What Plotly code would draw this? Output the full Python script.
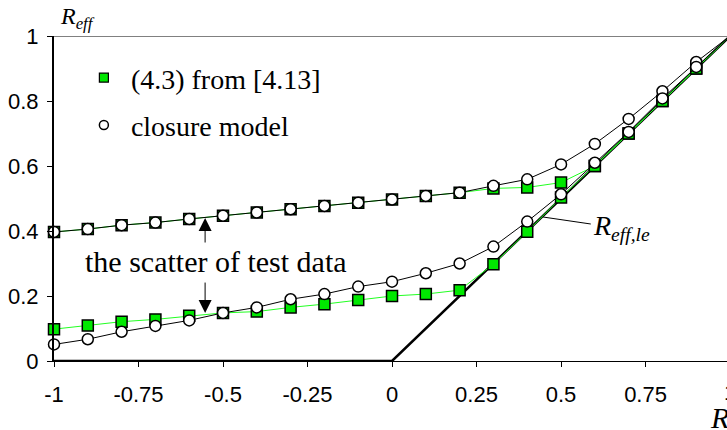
import plotly.graph_objects as go

# R values (abscissa) shared by all series
r_vals = [-1.0, -0.9, -0.8, -0.7, -0.6, -0.5, -0.4, -0.3, -0.2, -0.1, 0.0,
          0.1, 0.2, 0.3, 0.4, 0.5, 0.6, 0.7, 0.8, 0.9, 1.0]

# Eq. (4.3) from [4.13]: upper and lower bounds of the test-data scatter
eq_upper = [0.397, 0.406, 0.418, 0.426, 0.437, 0.447, 0.457, 0.467, 0.477, 0.487, 0.497,
            0.508, 0.518, 0.531, 0.534, 0.549, 0.600, 0.700, 0.800, 0.900, 1.000]
eq_lower = [0.098, 0.109, 0.121, 0.128, 0.139, 0.148, 0.152, 0.165, 0.175, 0.188, 0.200,
            0.206, 0.218, 0.298, 0.398, 0.503, 0.600, 0.700, 0.800, 0.900, 1.000]

# Closure model: upper and lower bounds
cm_upper = [0.397, 0.406, 0.418, 0.426, 0.437, 0.447, 0.457, 0.467, 0.477, 0.487, 0.497,
            0.508, 0.518, 0.539, 0.559, 0.605, 0.668, 0.745, 0.830, 0.920, 1.000]
cm_lower = [0.051, 0.067, 0.090, 0.108, 0.125, 0.148, 0.165, 0.190, 0.206, 0.229, 0.244,
            0.270, 0.300, 0.352, 0.429, 0.513, 0.610, 0.705, 0.808, 0.905, 1.000]

# Limit line R_eff,le
le_r = [-1.0, 0.0, 1.0]
le_val = [0.0, 0.0, 1.0]

x_tickvals = [-1, -0.75, -0.5, -0.25, 0, 0.25, 0.5, 0.75]
x_ticktext = ["-1", "-0.75", "-0.5", "-0.25", "0", "0.25", "0.5", "0.75"]
y_tickvals = [0, 0.2, 0.4, 0.6, 0.8, 1]
y_ticktext = ["0", "0.2", "0.4", "0.6", "0.8", "1"]

SERIF = "Liberation Serif, Times New Roman, serif"
SANS = "Liberation Sans, Arial, sans-serif"
GREEN_FILL = "#00e800"
GREEN_LINE = "#22ff22"

fig = go.Figure()

fig.add_trace(go.Scatter(x=le_r, y=le_val, mode="lines",
                         line=dict(color="black", width=2.5),
                         showlegend=False, hoverinfo="skip"))

marker_sq = dict(symbol="square", size=11, color=GREEN_FILL,
                 line=dict(color="black", width=1.5))
marker_ci = dict(symbol="circle", size=11, color="white",
                 line=dict(color="black", width=1.5))

for ys in (eq_upper, eq_lower):
    fig.add_trace(go.Scatter(x=r_vals, y=ys, mode="lines+markers",
                             line=dict(color=GREEN_LINE, width=1),
                             marker=marker_sq, showlegend=False, cliponaxis=False))
for ys in (cm_upper, cm_lower):
    fig.add_trace(go.Scatter(x=r_vals, y=ys, mode="lines+markers",
                             line=dict(color="black", width=1),
                             marker=marker_ci, showlegend=False, cliponaxis=False))

# legend entries (markers only)
fig.add_trace(go.Scatter(x=[None], y=[None], mode="markers", name="(4.3) from [4.13]",
                         legendgroup="a",
                         marker=dict(symbol="square", size=9, color=GREEN_FILL,
                                     line=dict(color="black", width=1.2))))
fig.add_trace(go.Scatter(x=[None], y=[None], mode="markers", name="closure model",
                         legendgroup="b",
                         marker=dict(symbol="circle", size=9, color="white",
                                     line=dict(color="black", width=1.5))))

# arrows pointing at the two scatter bounds
fig.add_annotation(x=-0.553, y=0.44, ax=-0.553, ay=0.36, xref="x", yref="y",
                   axref="x", ayref="y", text="", showarrow=True,
                   arrowhead=2, arrowsize=2.6, arrowwidth=1, arrowcolor="black")
fig.add_annotation(x=-0.553, y=0.148, ax=-0.553, ay=0.246, xref="x", yref="y",
                   axref="x", ayref="y", text="", showarrow=True,
                   arrowhead=2, arrowsize=2.6, arrowwidth=1, arrowcolor="black")
fig.add_annotation(x=-0.52, y=0.306, xref="x", yref="y", text="the scatter of test data",
                   showarrow=False, font=dict(family=SERIF, size=30, color="black"))

# R_eff,le label with leader line
fig.add_shape(type="line", x0=0.447, y0=0.443, x1=0.588, y1=0.4215,
              xref="x", yref="y", line=dict(color="black", width=1))
fig.add_annotation(x=0.588, y=0.41, xref="x", yref="y", xanchor="left", yanchor="middle",
                   text="<i>R<sub>eff,le</sub></i>", showarrow=False,
                   font=dict(family=SERIF, size=28, color="black"))

# axis titles
fig.add_annotation(x=0.006, y=1, xref="paper", yref="paper", xanchor="left",
                   yanchor="bottom", yshift=1, text="<i>R<sub>eff</sub></i>",
                   showarrow=False, font=dict(family=SERIF, size=24, color="black"))
fig.add_annotation(x=1, y=0, xref="paper", yref="paper", xanchor="right",
                   yanchor="middle", yshift=-56, xshift=4, text="<i>R</i>",
                   showarrow=False, font=dict(family=SERIF, size=30, color="black"))
# last x tick label, sitting at the right edge
fig.add_annotation(x=1.0045, y=0, xref="paper", yref="paper", xanchor="center",
                   yanchor="top", yshift=-17, text="1", showarrow=False,
                   font=dict(family=SANS, size=22, color="black"))

# top border of the plot area
fig.add_shape(type="line", x0=0, x1=1, y0=1, y1=1, xref="paper", yref="y",
              line=dict(color="#808080", width=2))

fig.update_xaxes(range=[-1, 0.991], tickvals=x_tickvals, ticktext=x_ticktext,
                 showgrid=False, zeroline=False, showline=True, linecolor="black",
                 linewidth=1, ticks="outside", ticklen=5, tickcolor="black",
                 ticklabelstandoff=9,
                 tickfont=dict(family=SANS, size=22, color="black"))
fig.update_yaxes(range=[0, 1], tickvals=y_tickvals, ticktext=y_ticktext,
                 showgrid=False, zeroline=False, showline=True, linecolor="black",
                 linewidth=2, ticks="outside", ticklen=5, tickcolor="black",
                 ticklabelstandoff=4,
                 tickfont=dict(family=SANS, size=22, color="black"))

fig.update_layout(
    width=727, height=430,
    margin=dict(l=54, r=0, t=36, b=69),
    paper_bgcolor="white", plot_bgcolor="white",
    legend=dict(x=0.034, y=0.948, xanchor="left", yanchor="top",
                traceorder="grouped", tracegroupgap=8, itemwidth=44,
                font=dict(family=SERIF, size=28, color="black"),
                bgcolor="rgba(0,0,0,0)"),
)

fig.write_html("out.html")
